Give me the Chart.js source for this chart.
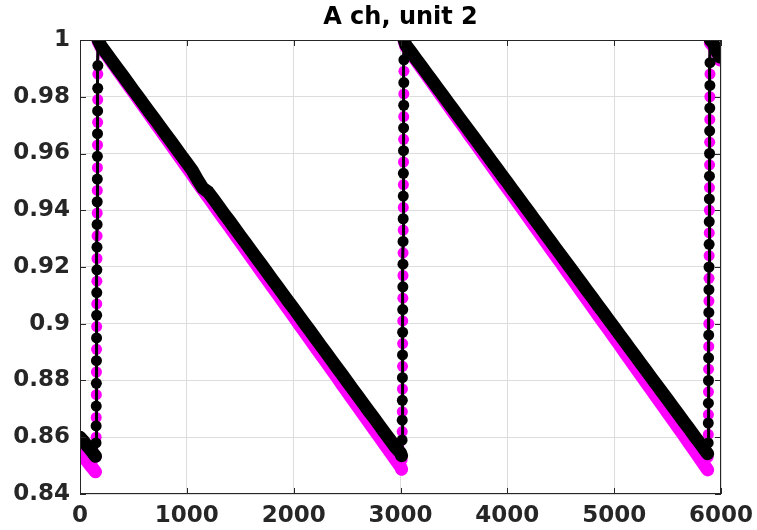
<!DOCTYPE html>
<html>
<head>
<meta charset="utf-8">
<script src="https://cdn.jsdelivr.net/npm/chart.js@4/dist/chart.umd.min.js"></script>
<style>
html,body{margin:0;padding:0;background:#fff;}
#wrap{width:757px;height:530px;}
</style>
</head>
<body>
<div id="wrap"><canvas id="c" width="757" height="530"></canvas></div>
<script>
// ---- data ----
const chartTitle = "A ch, unit 2";
const xTicks = [0, 1000, 2000, 3000, 4000, 5000, 6000];
const yTicks = [0.84, 0.86, 0.88, 0.9, 0.92, 0.94, 0.96, 0.98, 1];

// time samples (shared by both series)
const time = [
  // first low stretch
  0, 25, 50, 75, 100, 125, 145,
  // jump 1
  150, 151, 152, 153, 154, 155, 156, 157, 158, 159, 160, 161, 162, 163, 164, 165, 166, 167,
  // ramp 1
  170, 200, 250, 300, 350, 400, 450, 500, 550, 600, 650, 700, 750, 800, 850, 900, 950, 1000,
  1050, 1100, 1150, 1200, 1250, 1300, 1350, 1400, 1450, 1500, 1550, 1600, 1650, 1700, 1750, 1800,
  1850, 1900, 1950, 2000, 2050, 2100, 2150, 2200, 2250, 2300, 2350, 2400, 2450, 2500, 2550, 2600,
  2650, 2700, 2750, 2800, 2850, 2900, 2950, 3000, 3010,
  // jump 2
  3015, 3016, 3017, 3018, 3019, 3020, 3021, 3022, 3023, 3024, 3025, 3026, 3027, 3028, 3029, 3030, 3031, 3032,
  // ramp 2
  3035, 3050, 3100, 3150, 3200, 3250, 3300, 3350, 3400, 3450, 3500, 3550, 3600, 3650, 3700, 3750, 3800,
  3850, 3900, 3950, 4000, 4050, 4100, 4150, 4200, 4250, 4300, 4350, 4400, 4450, 4500, 4550, 4600,
  4650, 4700, 4750, 4800, 4850, 4900, 4950, 5000, 5050, 5100, 5150, 5200, 5250, 5300, 5350, 5400,
  5450, 5500, 5550, 5600, 5650, 5700, 5750, 5800, 5850, 5875,
  // jump 3
  5880, 5881, 5882, 5883, 5884, 5885, 5886, 5887, 5888, 5889, 5890, 5891, 5892, 5893, 5894, 5895, 5896, 5897,
  // top tail
  5900, 5925, 5950, 5975, 5990
];

const blackSeries = [
  0.8600, 0.8590, 0.8578, 0.8566, 0.8555, 0.8543, 0.8533,
  0.858, 0.864, 0.871, 0.879, 0.887, 0.895, 0.903, 0.911, 0.919, 0.927, 0.935, 0.943, 0.951, 0.959, 0.967, 0.975, 0.983, 0.991,
  1.0000, 0.9977, 0.9952, 0.9926, 0.9900, 0.9875, 0.9849, 0.9823, 0.9798, 0.9772, 0.9746, 0.9721, 0.9695, 0.9669, 0.9644, 0.9618, 0.9592, 0.9567,
  0.9541, 0.9508, 0.9478, 0.9464, 0.9439, 0.9413, 0.9387, 0.9362, 0.9336, 0.9310, 0.9285, 0.9259, 0.9233, 0.9208, 0.9182, 0.9156,
  0.9131, 0.9105, 0.9079, 0.9054, 0.9028, 0.9002, 0.8977, 0.8951, 0.8925, 0.8900, 0.8874, 0.8848, 0.8823, 0.8797, 0.8771, 0.8746,
  0.8720, 0.8694, 0.8669, 0.8643, 0.8617, 0.8592, 0.8566, 0.8545, 0.8535,
  0.859, 0.866, 0.873, 0.881, 0.889, 0.897, 0.905, 0.913, 0.921, 0.929, 0.937, 0.945, 0.953, 0.961, 0.969, 0.977, 0.985, 0.993,
  1.0000, 0.9982, 0.9957, 0.9931, 0.9906, 0.9880, 0.9855, 0.9829, 0.9804, 0.9778, 0.9753, 0.9727, 0.9702, 0.9676, 0.9651, 0.9625, 0.9600,
  0.9574, 0.9549, 0.9523, 0.9498, 0.9472, 0.9447, 0.9421, 0.9396, 0.9370, 0.9345, 0.9319, 0.9294, 0.9268, 0.9243, 0.9217, 0.9192,
  0.9166, 0.9141, 0.9115, 0.9090, 0.9064, 0.9039, 0.9013, 0.8988, 0.8962, 0.8937, 0.8911, 0.8886, 0.8860, 0.8835, 0.8809, 0.8784,
  0.8758, 0.8733, 0.8707, 0.8682, 0.8656, 0.8631, 0.8605, 0.8580, 0.8554, 0.8542,
  0.858, 0.865, 0.872, 0.880, 0.888, 0.896, 0.904, 0.912, 0.920, 0.928, 0.936, 0.944, 0.952, 0.960, 0.968, 0.976, 0.984, 0.992,
  1.000, 0.999, 0.997, 0.995, 0.994
];

const magentaSeries = [
  0.8545, 0.8535, 0.8523, 0.8511, 0.8499, 0.8488, 0.8478,
  0.853, 0.860, 0.867, 0.875, 0.883, 0.891, 0.899, 0.907, 0.915, 0.923, 0.931, 0.939, 0.947, 0.955, 0.963, 0.971, 0.979, 0.988,
  0.9995, 0.9973, 0.9947, 0.9921, 0.9894, 0.9868, 0.9842, 0.9816, 0.9789, 0.9763, 0.9737, 0.9710, 0.9684, 0.9657, 0.9631, 0.9604, 0.9578, 0.9551,
  0.9525, 0.9498, 0.9472, 0.9446, 0.9420, 0.9393, 0.9367, 0.9341, 0.9314, 0.9288, 0.9262, 0.9235, 0.9209, 0.9182, 0.9156, 0.9130,
  0.9104, 0.9077, 0.9051, 0.9025, 0.8998, 0.8972, 0.8946, 0.8919, 0.8893, 0.8867, 0.8840, 0.8814, 0.8787, 0.8761, 0.8734, 0.8708,
  0.8681, 0.8655, 0.8628, 0.8602, 0.8575, 0.8549, 0.8522, 0.8496, 0.8487,
  0.852, 0.862, 0.869, 0.877, 0.885, 0.893, 0.901, 0.909, 0.917, 0.925, 0.933, 0.941, 0.949, 0.957, 0.965, 0.973, 0.981, 0.989,
  0.9995, 0.9977, 0.9951, 0.9925, 0.9899, 0.9873, 0.9847, 0.9820, 0.9794, 0.9768, 0.9741, 0.9715, 0.9689, 0.9662, 0.9636, 0.9610, 0.9583,
  0.9557, 0.9531, 0.9504, 0.9478, 0.9452, 0.9425, 0.9399, 0.9373, 0.9346, 0.9320, 0.9294, 0.9267, 0.9241, 0.9215, 0.9188, 0.9162,
  0.9136, 0.9109, 0.9083, 0.9057, 0.9030, 0.9004, 0.8978, 0.8951, 0.8925, 0.8898, 0.8872, 0.8845, 0.8819, 0.8792, 0.8766, 0.8739,
  0.8713, 0.8686, 0.8660, 0.8633, 0.8607, 0.8580, 0.8553, 0.8526, 0.8499, 0.8485,
  0.853, 0.861, 0.868, 0.876, 0.884, 0.892, 0.900, 0.908, 0.916, 0.924, 0.932, 0.940, 0.948, 0.956, 0.964, 0.972, 0.980, 0.988,
  0.999, 0.998, 0.996, 0.995, 0.993
];

// ---- build chart ----
const toPoints = (ys) => time.map((t, i) => ({x: t, y: ys[i]}));

const AXIS_COLOR = '#262626';
// thin line on the near-vertical recharge jumps, thick band on the ramps
const segWidth = (ctx) => Math.abs(ctx.p1.parsed.x - ctx.p0.parsed.x) < 6 ? 3 : 13;

const framePlugin = {
  id: 'frame',
  afterDatasetsDraw(chart) {
    const {ctx, chartArea: a, scales} = chart;
    ctx.save();
    ctx.strokeStyle = AXIS_COLOR;
    ctx.lineWidth = 1;
    ctx.strokeRect(a.left + 0.5, a.top + 0.5, a.right - a.left - 1, a.bottom - a.top - 1);
    const tl = 6;
    ctx.beginPath();
    xTicks.forEach(v => {
      const px = Math.round(scales.x.getPixelForValue(v)) + 0.5;
      ctx.moveTo(px, a.bottom); ctx.lineTo(px, a.bottom - tl);
      ctx.moveTo(px, a.top); ctx.lineTo(px, a.top + tl);
    });
    yTicks.forEach(v => {
      const py = Math.round(scales.y.getPixelForValue(v)) + 0.5;
      ctx.moveTo(a.left, py); ctx.lineTo(a.left + tl, py);
      ctx.moveTo(a.right, py); ctx.lineTo(a.right - tl, py);
    });
    ctx.stroke();
    ctx.restore();
  }
};

const seriesStyle = (color) => ({
  showLine: true,
  borderColor: color,
  backgroundColor: color,
  borderWidth: 3,
  borderJoinStyle: 'round',
  borderCapStyle: 'round',
  segment: {borderWidth: segWidth},
  pointRadius: 5.5,
  pointBorderWidth: 0,
  pointHoverRadius: 5.5
});

new Chart(document.getElementById('c'), {
  type: 'scatter',
  data: {
    datasets: [
      Object.assign({label: 'black', data: toPoints(blackSeries), order: 0}, seriesStyle('#000000')),
      Object.assign({label: 'magenta', data: toPoints(magentaSeries), order: 1}, seriesStyle('#ff00ff'))
    ]
  },
  options: {
    responsive: false,
    animation: false,
    devicePixelRatio: 1,
    layout: {padding: {left: 0, right: 36, top: 0, bottom: 0}},
    plugins: {
      legend: {display: false},
      tooltip: {enabled: false},
      title: {
        display: true,
        fullSize: false,
        text: chartTitle,
        color: '#000000',
        font: {family: 'DejaVu Sans', weight: 'bold', size: 24},
        padding: {top: 3, bottom: 8.2}
      }
    },
    scales: {
      x: {
        type: 'linear',
        min: 0, max: 6000,
        afterFit(s) { s.height = 36; s.paddingLeft = 0; s.paddingRight = 0; },
        afterBuildTicks(s) { s.ticks = xTicks.map(v => ({value: v})); },
        grid: {color: '#dcdcdc', lineWidth: 1, drawTicks: false},
        border: {display: false},
        ticks: {
          color: AXIS_COLOR, padding: 8, maxRotation: 0, autoSkip: false,
          font: {family: 'DejaVu Sans', weight: 'bold', size: 23},
          callback: v => String(v)
        }
      },
      y: {
        type: 'linear',
        min: 0.84, max: 1,
        afterFit(s) { s.width = 80; s.paddingTop = 0; s.paddingBottom = 0; },
        afterBuildTicks(s) { s.ticks = yTicks.map(v => ({value: v})); },
        grid: {color: '#dcdcdc', lineWidth: 1, drawTicks: false},
        border: {display: false},
        ticks: {
          color: AXIS_COLOR, padding: 10, autoSkip: false,
          font: {family: 'DejaVu Sans', weight: 'bold', size: 23},
          callback: v => String(Math.round(v * 100) / 100)
        }
      }
    }
  },
  plugins: [framePlugin]
});
</script>
</body>
</html>
